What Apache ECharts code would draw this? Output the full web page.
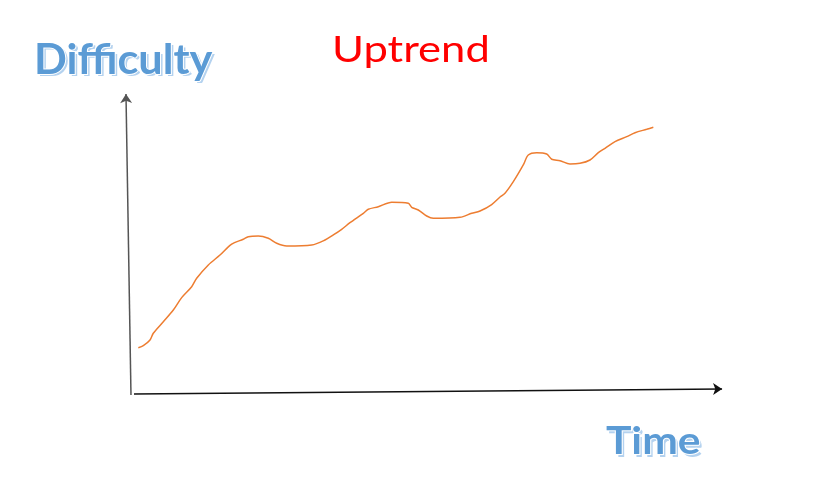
<!DOCTYPE html>
<html>
<head>
<meta charset="utf-8">
<script src="https://cdn.jsdelivr.net/npm/echarts@6/dist/echarts.min.js"></script>
<style>html,body{margin:0;padding:0;background:#fff}#c{width:813px;height:499px}</style>
</head>
<body>
<div id="c"></div>
<script>
// Hand-drawn sketch: arbitrary units (time 0-100, difficulty 0-100)
const timeValues = [3.0,3.82,4.92,5.46,7.10,8.74,10.11,11.75,12.57,14.48,16.39,18.31,20.21,21.03,22.67,24.31,25.69,27.33,31.43,33.61,34.97,36.34,37.70,39.89,40.70,42.34,44.54,47.26,47.82,48.90,50.28,51.36,55.74,57.66,59.02,60.93,62.30,63.11,64.48,66.11,66.93,68.31,69.95,70.77,72.13,73.77,75.41,77.05,78.41,79.51,81.15,83.07,84.43,86.34,87.43];
const difficultyValues = [16.87,17.52,19.35,21.52,25.26,29.03,33.03,36.55,39.26,43.55,46.77,50.32,51.84,52.68,52.90,52.16,50.55,49.68,50.00,51.61,53.23,55.06,57.19,60.23,61.52,62.35,63.77,63.45,62.16,61.29,59.35,58.61,58.94,60.23,60.97,63.06,65.48,66.68,70.42,75.81,79.03,79.77,79.35,77.65,77.19,76.13,76.35,77.42,79.77,81.19,83.32,84.94,86.23,87.32,87.97];
// hand-drawn axis arrows (start, end)
const yAxisArrow = [[1.80, 1.61], [0.98, 98.7]];
const xAxisArrow = [[2.30, 1.94], [98.7, 3.55]];
const titleText = 'Uptrend';
const yLabel = 'Difficulty';
const xLabel = 'Time';

const curve = timeValues.map((t, i) => [t, difficultyValues[i]]);

function wordArt(text, x, y, size, sx) {
  const font = 'bold ' + size + 'px Lato';
  return [
    {type: 'text', x: x + 2.5, y: y + 2.5, scaleX: sx, silent: true, z: 10,
     style: {text: text, font: font, fill: '#B4D2EF', verticalAlign: 'top', align: 'left'}},
    {type: 'text', x: x, y: y, scaleX: sx, silent: true, z: 11,
     style: {text: text, font: font, fill: '#5B9BD5', stroke: '#ffffff', lineWidth: 2, strokeFirst: true, verticalAlign: 'top', align: 'left'}}
  ];
}

const chart = echarts.init(document.getElementById('c'), null, {renderer: 'canvas'});
chart.setOption({
  animation: false,
  backgroundColor: '#ffffff',
  graphic: [
    {type: 'text', x: 332, y: 32.5, scaleX: 1.21, silent: true, z: 10,
     style: {text: titleText, font: '36px Lato', fill: '#FF0000', verticalAlign: 'top', align: 'left'}}
  ].concat(wordArt(yLabel, 34, 39, 42, 1.03), wordArt(xLabel, 606, 423, 38, 1.12)),
  grid: {left: 120, right: 83, top: 90, bottom: 99},
  xAxis: {type: 'value', min: 0, max: 100, show: false},
  yAxis: {type: 'value', min: 0, max: 100, show: false},
  series: [
    {
      type: 'lines', coordinateSystem: 'cartesian2d', silent: true,
      symbol: ['none', 'arrow'], symbolSize: 9,
      lineStyle: {color: '#555', width: 1.5, opacity: 1},
      data: [{coords: yAxisArrow}]
    },
    {
      type: 'lines', coordinateSystem: 'cartesian2d', silent: true,
      symbol: ['none', 'arrow'], symbolSize: 9,
      lineStyle: {color: '#111', width: 1.5, opacity: 1},
      data: [{coords: xAxisArrow}]
    },
    {
      type: 'line', data: curve, showSymbol: false, smooth: 0.3,
      lineStyle: {color: '#ED7D31', width: 1.5}
    }
  ]
});
</script>
</body>
</html>
